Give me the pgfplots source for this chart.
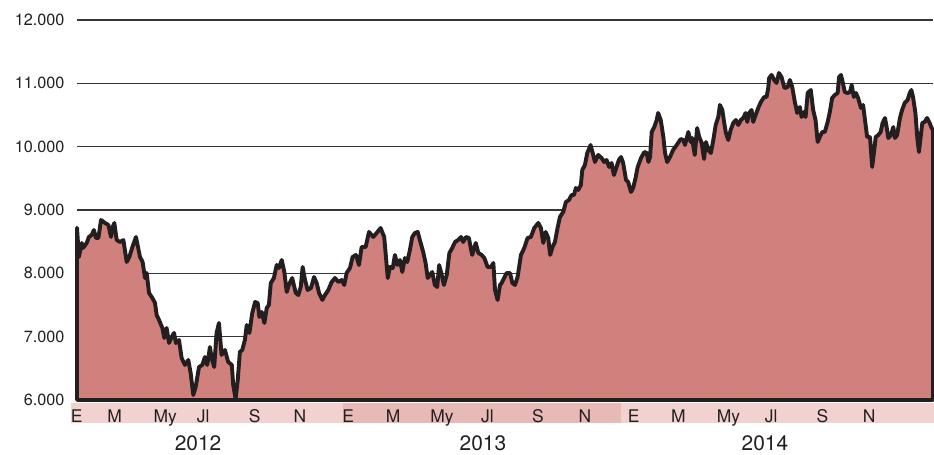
\documentclass[border=0pt]{standalone}
\usepackage{fontspec}
\setmainfont{TeX Gyre Heros}
\usepackage{pgfplots}
\pgfplotsset{compat=1.18}
\definecolor{areacol}{RGB}{208,128,125}
\definecolor{bandlight}{RGB}{241,210,207}
\definecolor{banddark}{RGB}{232,186,181}
\definecolor{linecol}{RGB}{35,31,32}
\pgfplotsset{layers/mylayers/.define layer set={axis background,axis grid,pre main,main,axis ticks,axis lines,axis tick labels,axis descriptions,axis foreground}{}}
\begin{document}
\begin{tikzpicture}
\begin{axis}[set layers=mylayers, scale only axis, width=856bp, height=380bp,
 at={(0,0)}, anchor=south west,
 xmin=0, xmax=36, ymin=6000, ymax=12000, clip=false,
 axis x line*=bottom, axis y line*=left, y axis line style={draw=none},
 x axis line style={line width=2.8bp, color=linecol},
 xtick={0,2,...,36}, xticklabels={}, tick align=inside, major tick length=4.5bp,
 xtick style={line width=1.3bp, color=linecol},
 ytick={6000,7000,...,12000}, ytick style={draw=none},
 ymajorgrids, grid style={line width=1.3bp, color=linecol!90},
 scaled y ticks=false,
 /pgf/number format/1000 sep={.}, /pgf/number format/assume math mode=true,
 yticklabel style={font=\fontsize{16.3}{18}\selectfont, color=linecol, xshift=-9bp},
]
\fill[bandlight] (axis cs:-0.25,5953) rectangle (axis cs:11.17,5637);
\fill[banddark] (axis cs:11.17,5953) rectangle (axis cs:22.88,5637);
\fill[bandlight] (axis cs:22.88,5953) rectangle (axis cs:36.04,5637);
\addplot[fill=areacol, draw=linecol, line width=3.9bp, line join=round] table {
x y
0.00 8720
0.08 8258
0.20 8479
0.25 8400
0.41 8479
0.50 8574
0.62 8606
0.71 8684
0.80 8558
0.90 8558
1.01 8842
1.18 8795
1.32 8763
1.43 8574
1.50 8732
1.57 8795
1.67 8526
1.81 8495
1.95 8526
2.09 8179
2.20 8258
2.33 8416
2.48 8574
2.65 8258
2.76 8179
2.86 7926
2.93 8005
3.03 7690
3.17 7611
3.28 7532
3.35 7342
3.45 7263
3.59 7137
3.67 6979
3.77 7137
3.87 6900
3.98 6995
4.08 7058
4.16 6900
4.29 6947
4.40 6663
4.54 6553
4.68 6632
4.78 6426
4.89 6079
4.99 6205
5.13 6521
5.27 6553
5.38 6679
5.48 6553
5.59 6837
5.66 6663
5.77 6521
5.87 7058
5.97 7216
6.08 6711
6.22 6790
6.36 6600
6.51 6553
6.57 6237
6.67 6016
6.76 6316
6.85 6758
6.95 6790
7.06 6947
7.14 7184
7.25 7058
7.37 7374
7.49 7547
7.60 7532
7.67 7311
7.77 7390
7.88 7216
7.98 7453
8.07 7500
8.15 7847
8.28 7926
8.40 8132
8.49 8084
8.61 8211
8.72 8021
8.82 7705
8.91 7816
9.05 7926
9.20 7690
9.31 7658
9.41 7784
9.49 8100
9.59 7895
9.70 7737
9.84 7769
9.97 7942
10.08 7847
10.18 7690
10.32 7579
10.43 7658
10.57 7737
10.71 7863
10.85 7926
10.99 7863
11.13 7895
11.24 7816
11.34 8005
11.48 8084
11.59 8258
11.73 8290
11.86 8132
11.97 8416
12.14 8416
12.28 8653
12.46 8574
12.60 8637
12.77 8716
12.92 8574
13.07 7926
13.16 8100
13.28 8084
13.37 8290
13.47 8132
13.58 8211
13.68 8021
13.79 8242
13.89 8179
14.00 8369
14.10 8574
14.21 8637
14.33 8653
14.42 8526
14.56 8337
14.66 8163
14.75 7926
14.84 7974
14.94 8021
15.05 7816
15.15 7784
15.23 8132
15.34 7974
15.43 7816
15.55 7974
15.66 8321
15.78 8400
15.90 8495
16.03 8526
16.15 8574
16.24 8495
16.36 8574
16.48 8558
16.62 8290
16.77 8479
16.88 8321
17.02 8290
17.13 8242
17.27 8100
17.41 8100
17.51 8163
17.58 7737
17.69 7579
17.79 7816
17.86 7847
17.96 7926
18.07 8005
18.21 8005
18.31 7847
18.42 7816
18.53 7942
18.67 8290
18.81 8400
18.95 8558
19.09 8574
19.23 8716
19.40 8795
19.51 8716
19.61 8479
19.71 8653
19.82 8558
19.90 8290
20.00 8416
20.10 8495
20.21 8716
20.31 8890
20.45 8969
20.56 9126
20.69 9158
20.80 9237
20.90 9237
20.98 9347
21.08 9316
21.19 9395
21.25 9632
21.36 9711
21.46 9900
21.60 10026
21.71 9869
21.78 9758
21.92 9869
22.06 9821
22.17 9758
22.27 9790
22.38 9679
22.48 9742
22.58 9553
22.69 9679
22.79 9790
22.88 9837
22.97 9742
23.09 9474
23.18 9442
23.30 9284
23.39 9347
23.49 9505
23.58 9679
23.72 9821
23.86 9916
23.96 9900
24.03 9758
24.10 9837
24.17 10232
24.28 10311
24.38 10421
24.44 10532
24.55 10421
24.66 10153
24.73 9900
24.82 9758
24.94 9837
25.07 9948
25.22 10026
25.39 10121
25.50 10105
25.57 10026
25.71 10232
25.81 10074
25.87 10137
25.98 9869
26.08 10295
26.17 10153
26.27 10058
26.37 9805
26.45 10074
26.55 9948
26.66 9900
26.76 10105
26.86 10342
26.97 10469
27.04 10658
27.14 10579
27.22 10374
27.29 10216
27.39 10105
27.49 10263
27.60 10374
27.71 10421
27.81 10342
27.92 10421
28.02 10453
28.12 10532
28.19 10390
28.27 10532
28.37 10579
28.44 10390
28.54 10500
28.65 10611
28.76 10705
28.90 10784
29.00 10784
29.07 10926
29.11 11084
29.21 11132
29.32 11053
29.42 11005
29.52 11163
29.63 11100
29.74 10942
29.77 10926
29.89 10942
29.98 11053
30.08 10942
30.19 10705
30.29 10532
30.40 10626
30.47 10469
30.57 10547
30.64 10469
30.73 10847
30.86 10895
30.96 10579
31.06 10421
31.15 10074
31.24 10153
31.34 10232
31.45 10232
31.57 10390
31.66 10547
31.76 10769
31.87 10816
31.99 10847
32.05 11100
32.13 11132
32.20 11021
32.29 10863
32.41 10847
32.51 10863
32.58 10974
32.67 10784
32.76 10847
32.85 10769
32.97 10611
33.06 10658
33.14 10421
33.23 10153
33.35 10153
33.44 9679
33.53 9948
33.59 10153
33.70 10184
33.80 10232
33.88 10374
33.98 10453
34.05 10311
34.12 10137
34.23 10184
34.33 10311
34.40 10137
34.49 10184
34.61 10453
34.70 10579
34.81 10690
34.93 10737
35.02 10847
35.09 10895
35.16 10784
35.26 10532
35.34 10137
35.41 9916
35.48 10153
35.55 10374
35.65 10390
35.75 10453
35.86 10374
35.94 10295
36.00 10263
} \closedcycle;
% month labels
\tikzset{mlab/.style={anchor=base, yshift=-22bp, font=\fontsize{17.5}{19}\selectfont, text=linecol, inner sep=0pt}}
\tikzset{ylab/.style={anchor=center, yshift=-43bp, font=\fontsize{21}{23}\selectfont, text=linecol, inner sep=0pt}}
\node[mlab] at (axis cs:-0.01,6000) {E};
\node[mlab] at (axis cs:1.58,6000) {M};
\node[mlab] at (axis cs:3.71,6000) {My};
\node[mlab] at (axis cs:5.31,6000) {Jl};
\node[mlab] at (axis cs:7.47,6000) {S};
\node[mlab] at (axis cs:9.37,6000) {N};
\node[mlab] at (axis cs:11.41,6000) {E};
\node[mlab] at (axis cs:13.30,6000) {M};
\node[mlab] at (axis cs:15.35,6000) {My};
\node[mlab] at (axis cs:17.26,6000) {Jl};
\node[mlab] at (axis cs:19.38,6000) {S};
\node[mlab] at (axis cs:21.36,6000) {N};
\node[mlab] at (axis cs:23.41,6000) {E};
\node[mlab] at (axis cs:25.29,6000) {M};
\node[mlab] at (axis cs:27.40,6000) {My};
\node[mlab] at (axis cs:29.19,6000) {Jl};
\node[mlab] at (axis cs:31.35,6000) {S};
\node[mlab] at (axis cs:33.32,6000) {N};
\node[ylab] at (axis cs:5.09,6000) {2012};
\node[ylab] at (axis cs:17.07,6000) {2013};
\node[ylab] at (axis cs:28.93,6000) {2014};
\end{axis}
\pgfresetboundingbox
\path[use as bounding box] (-77bp,-55bp) rectangle (857bp,400bp);
\end{tikzpicture}
\end{document}
